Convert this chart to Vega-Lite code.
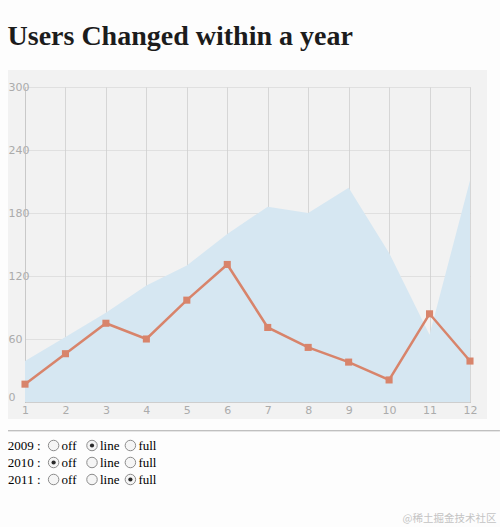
{
  "$schema": "https://vega.github.io/schema/vega-lite/v6.json",
  "description": "Users changed within a year, 2009 line over 2011 area, with the series switches below",
  "background": "#fdfdfd",
  "padding": {"left": -10, "top": 6, "right": 0, "bottom": 2},
  "title": {
    "text": "@稀土掘金技术社区",
    "orient": "bottom",
    "anchor": "end",
    "font": "Noto Sans CJK SC",
    "fontSize": 10.5,
    "fontWeight": "normal",
    "color": "#c4c4c4",
    "offset": 26,
    "dx": -21
  },
  "bounds": "flush",
  "spacing": 35,
  "vconcat": [
    {
      "title": {
        "text": "Users Changed within a year",
        "anchor": "start",
        "font": "Liberation Serif",
        "fontSize": 28,
        "fontWeight": "bold",
        "color": "#1c1c1c",
        "offset": 30
      },
      "width": 445,
      "height": 315,
      "view": {"fill": "#f2f2f2", "stroke": "#f2f2f2", "strokeWidth": 34},
      "data": {
        "values": [
          {"month": 1, "year": 2009, "users": 17},
          {"month": 2, "year": 2009, "users": 46},
          {"month": 3, "year": 2009, "users": 75},
          {"month": 4, "year": 2009, "users": 60},
          {"month": 5, "year": 2009, "users": 97},
          {"month": 6, "year": 2009, "users": 131},
          {"month": 7, "year": 2009, "users": 71},
          {"month": 8, "year": 2009, "users": 52},
          {"month": 9, "year": 2009, "users": 38},
          {"month": 10, "year": 2009, "users": 21},
          {"month": 11, "year": 2009, "users": 84},
          {"month": 12, "year": 2009, "users": 39},
          {"month": 1, "year": 2011, "users": 39},
          {"month": 2, "year": 2011, "users": 62},
          {"month": 3, "year": 2011, "users": 85},
          {"month": 4, "year": 2011, "users": 111},
          {"month": 5, "year": 2011, "users": 130},
          {"month": 6, "year": 2011, "users": 160},
          {"month": 7, "year": 2011, "users": 186},
          {"month": 8, "year": 2011, "users": 180},
          {"month": 9, "year": 2011, "users": 204},
          {"month": 10, "year": 2011, "users": 142},
          {"month": 11, "year": 2011, "users": 64},
          {"month": 12, "year": 2011, "users": 211}
        ]
      },
      "layer": [
        {
          "transform": [{"filter": "datum.year == 2011"}],
          "mark": {"type": "area", "color": "#d6e7f2", "opacity": 1},
          "encoding": {
            "x": {
              "field": "month",
              "type": "quantitative",
              "scale": {"domain": [1, 12], "nice": false, "zero": false},
              "axis": {
                "values": [1, 2, 3, 4, 5, 6, 7, 8, 9, 10, 11, 12],
                "title": null,
                "grid": true,
                "gridColor": "#d6d6d6",
                "domainColor": "#bdbdbd",
                "domainDash": [1, 1],
                "ticks": false,
                "labelPadding": 2,
                "labelFlush": false
              }
            },
            "y": {
              "field": "users",
              "type": "quantitative",
              "scale": {"domain": [0, 300], "nice": false},
              "axis": {
                "values": [0, 60, 120, 180, 240, 300],
                "title": null,
                "grid": true,
                "gridColor": "#cecece",
                "gridDash": [1, 1],
                "domainColor": "#bdbdbd",
                "domainDash": [1, 1],
                "ticks": false,
                "labelAlign": "left",
                "labelPadding": 17,
                "labelBaseline": {
                  "condition": {"test": "datum.value === 0", "value": "bottom"},
                  "value": "middle"
                }
              }
            }
          }
        },
        {
          "transform": [{"filter": "datum.year == 2009"}],
          "mark": {
            "type": "line",
            "color": "#d8846b",
            "strokeWidth": 2.5,
            "point": {"shape": "square", "size": 50, "filled": true, "color": "#d8846b", "opacity": 1}
          },
          "encoding": {
            "x": {"field": "month", "type": "quantitative"},
            "y": {"field": "users", "type": "quantitative"}
          }
        },
        {
          "data": {"values": [{"hr": 1}]},
          "mark": {"type": "rule", "color": "#a9a9a9", "strokeWidth": 1},
          "encoding": {
            "x": {"datum": 0.58, "type": "quantitative"},
            "x2": {"datum": 12.74},
            "y": {"datum": -27.4, "type": "quantitative"}
          }
        }
      ]
    },
    {
      "width": 134,
      "height": 51,
      "data": {
        "values": [
          {"year": "2009", "option": "off", "checked": false},
          {"year": "2009", "option": "line", "checked": true},
          {"year": "2009", "option": "full", "checked": false},
          {"year": "2010", "option": "off", "checked": true},
          {"year": "2010", "option": "line", "checked": false},
          {"year": "2010", "option": "full", "checked": false},
          {"year": "2011", "option": "off", "checked": false},
          {"year": "2011", "option": "line", "checked": false},
          {"year": "2011", "option": "full", "checked": true}
        ]
      },
      "encoding": {
        "x": {
          "field": "option",
          "type": "nominal",
          "sort": ["off", "line", "full"],
          "scale": {"type": "point", "padding": 0.745},
          "axis": null
        },
        "y": {
          "field": "year",
          "type": "nominal",
          "scale": {"type": "point", "padding": 0.5},
          "axis": {
            "title": null,
            "domain": false,
            "ticks": false,
            "grid": false,
            "labelExpr": "datum.value + ' :'",
            "labelFont": "Liberation Serif",
            "labelFontSize": 13,
            "labelColor": "#000000",
            "labelPadding": -15
          }
        }
      },
      "layer": [
        {
          "mark": {
            "type": "point",
            "shape": "circle",
            "size": 110,
            "filled": true,
            "fill": "#f5f5f5",
            "stroke": "#8c8c8c",
            "strokeWidth": 1,
            "opacity": 1
          }
        },
        {
          "transform": [{"filter": "datum.checked"}],
          "mark": {"type": "point", "shape": "circle", "size": 18, "filled": true, "color": "#2a2a2a", "opacity": 1}
        },
        {
          "mark": {
            "type": "text",
            "align": "left",
            "baseline": "middle",
            "dx": 8,
            "font": "Liberation Serif",
            "fontSize": 13,
            "color": "#000000"
          },
          "encoding": {"text": {"field": "option"}}
        }
      ]
    }
  ],
  "config": {
    "view": {"stroke": null},
    "axis": {
      "labelFont": "DejaVu Sans",
      "labelFontSize": 11,
      "labelColor": "#ababab"
    }
  }
}
